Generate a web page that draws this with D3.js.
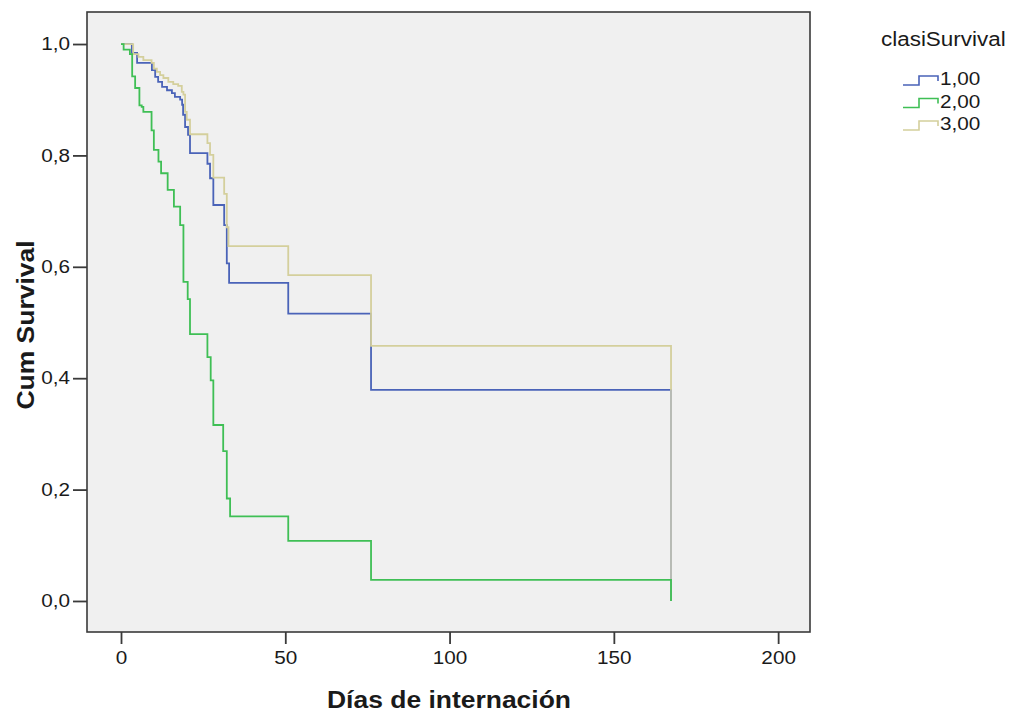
<!DOCTYPE html>
<html>
<head>
<meta charset="utf-8">
<script src="https://cdn.jsdelivr.net/npm/d3@7"></script>
<style>
  body { margin: 0; background: #fff; }
  text { font-family: "Liberation Sans", Arial, sans-serif; fill: #1a1a1a; }
</style>
</head>
<body>
<div id="chart"></div>
<script>
// Kaplan-Meier steps (day, cumulative survival)
const groups = ["1,00", "2,00", "3,00"];
const groupColors = ["#4a63b8", "#3fbf55", "#d4cf9c"];

const days1 = [0, 3.3, 4.9, 9.4, 10.4, 11.3, 12.5, 14.0, 15.5, 16.4, 18.0, 18.6, 18.9, 19.5, 20.4, 21.0, 26.3, 27.1, 28.1, 31.4, 32.2, 32.9, 50.9, 76.1, 167.4];
const surv1 = [1.0, 0.984, 0.966, 0.953, 0.941, 0.932, 0.923, 0.917, 0.912, 0.905, 0.900, 0.891, 0.873, 0.851, 0.837, 0.804, 0.785, 0.759, 0.711, 0.675, 0.606, 0.571, 0.516, 0.379, 0.0];

const days2 = [0, 0.8, 2.7, 3.4, 4.3, 5.6, 6.3, 6.8, 9.3, 10.0, 11.4, 12.2, 14.2, 16.1, 18.0, 19.0, 20.3, 21.0, 26.3, 27.3, 28.1, 31.1, 32.2, 33.2, 50.9, 76.1, 167.4];
const surv2 = [1.0, 0.990, 0.982, 0.942, 0.921, 0.890, 0.887, 0.878, 0.845, 0.810, 0.789, 0.768, 0.738, 0.708, 0.675, 0.573, 0.542, 0.479, 0.438, 0.396, 0.316, 0.269, 0.184, 0.152, 0.108, 0.038, 0.0];

const days3 = [0, 3.7, 5.3, 6.8, 9.3, 10.0, 10.9, 11.9, 12.9, 14.4, 15.9, 17.4, 18.5, 19.0, 19.5, 20.0, 21.0, 26.3, 27.1, 28.1, 31.4, 32.2, 32.7, 50.9, 76.1, 167.4];
const surv3 = [1.0, 0.982, 0.977, 0.971, 0.966, 0.956, 0.950, 0.944, 0.939, 0.932, 0.928, 0.925, 0.914, 0.909, 0.878, 0.864, 0.838, 0.822, 0.801, 0.760, 0.731, 0.671, 0.637, 0.585, 0.458, 0.0];

const xTicks = [0, 50, 100, 150, 200];
const yTicks = [0, 0.2, 0.4, 0.6, 0.8, 1.0];

const width = 1009;
const height = 712;
const stretch = 1.15; // the original font runs wider than Arial

let svg = d3.select("#chart")
    .append("svg")
    .attr("width", width)
    .attr("height", height);

let x = d3.scaleLinear()
    .domain([-10.35, 209.7])
    .range([87, 810]);

let y = d3.scaleLinear()
    .domain([-0.0557, 1.0575])
    .range([632, 12]);

let locale = d3.formatLocale({decimal: ",", thousands: ".", grouping: [3], currency: ["", ""]});
let fmt = locale.format(".1f");

// plot background
svg.append("rect")
    .attr("x", x.range()[0])
    .attr("y", y.range()[1])
    .attr("width", x.range()[1] - x.range()[0])
    .attr("height", y.range()[0] - y.range()[1])
    .attr("fill", "#f0f0f0");

let line = d3.line()
    .x(d => x(d[0]))
    .y(d => y(d[1]))
    .curve(d3.curveStepAfter);

let series = [
    d3.zip(days1, surv1),
    d3.zip(days2, surv2),
    d3.zip(days3, surv3)
];

let lines = svg.append("g").attr("fill", "none").attr("stroke-width", 1.8);

// blue, then beige, then green on top
[0, 2].forEach(function (i) {
    lines.append("path")
        .attr("d", line(series[i]))
        .attr("stroke", groupColors[i]);
});

// where the blue and beige drops overlap the line reads grey
let last1 = series[0][series[0].length - 1];
let prev1 = series[0][series[0].length - 2];
lines.append("path")
    .attr("d", line([[last1[0], prev1[1]], [last1[0], 0]]))
    .attr("stroke", "#b6bab8");

lines.append("path")
    .attr("d", line(series[1]))
    .attr("stroke", groupColors[1]);

// frame
svg.append("rect")
    .attr("x", x.range()[0])
    .attr("y", y.range()[1])
    .attr("width", x.range()[1] - x.range()[0])
    .attr("height", y.range()[0] - y.range()[1])
    .attr("fill", "none")
    .attr("stroke", "#3a3a3a")
    .attr("stroke-width", 1.6);

let xAxis = svg.append("g")
    .attr("transform", "translate(0," + y.range()[0] + ")")
    .call(d3.axisBottom(x).tickValues(xTicks).tickSize(12).tickPadding(7).tickFormat(d3.format("d")));

let yAxis = svg.append("g")
    .attr("transform", "translate(" + x.range()[0] + ",0)")
    .call(d3.axisLeft(y).tickValues(yTicks).tickSize(14).tickPadding(3).tickFormat(fmt));

[xAxis, yAxis].forEach(function (ax) {
    ax.select(".domain").remove();
    ax.selectAll(".tick line").attr("stroke", "#3a3a3a").attr("stroke-width", 1.8);
    ax.selectAll(".tick text")
        .attr("fill", "#1a1a1a")
        .style("font-size", "18px")
        .style("font-family", "'Liberation Sans', Arial, sans-serif");
});

svg.append("text")
    .attr("class", "axis-title")
    .attr("x", 449)
    .attr("y", 708)
    .attr("text-anchor", "middle")
    .style("font-size", "23px")
    .style("font-weight", "bold")
    .text("Días de internación");

svg.append("text")
    .attr("class", "axis-title")
    .attr("transform", "translate(34,325) rotate(-90)")
    .attr("text-anchor", "middle")
    .style("font-size", "23px")
    .style("font-weight", "bold")
    .text("Cum Survival");

// legend
let legend = svg.append("g").attr("id", "legend");

legend.append("text")
    .attr("x", 881)
    .attr("y", 46)
    .style("font-size", "19.5px")
    .text("clasiSurvival");

groups.forEach(function (g, i) {
    let cy = 78 + i * 22.5;
    legend.append("path")
        .attr("d", "M903," + (cy + 7) + "H919V" + (cy - 2) + "H938V" + (cy + 3))
        .attr("fill", "none")
        .attr("stroke", groupColors[i])
        .attr("stroke-width", 1.6);
    legend.append("text")
        .attr("x", 940)
        .attr("y", cy + 7)
        .style("font-size", "18px")
        .text(g);
});

// widen every label along its own direction
svg.selectAll("text").each(function () {
    let len = this.getComputedTextLength();
    d3.select(this)
        .attr("textLength", len * stretch)
        .attr("lengthAdjust", "spacingAndGlyphs");
});
</script>
</body>
</html>
